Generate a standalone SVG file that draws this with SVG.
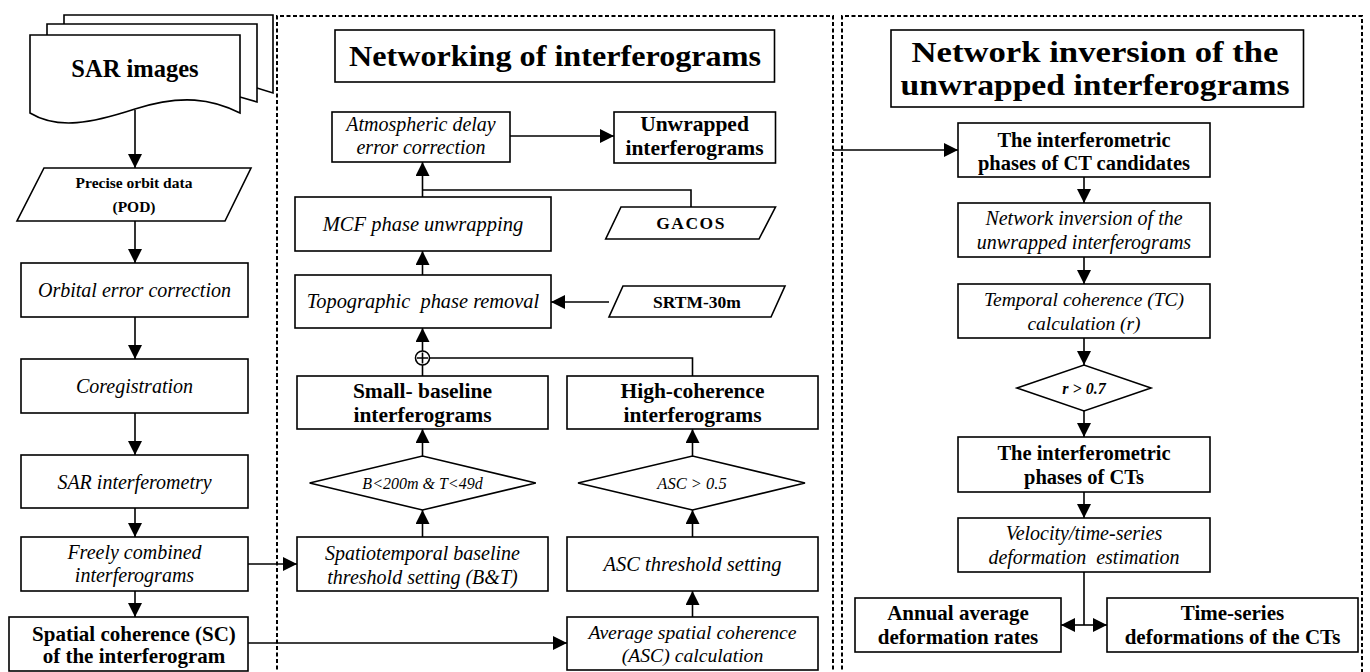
<svg xmlns="http://www.w3.org/2000/svg" width="1370" height="672" viewBox="0 0 1370 672">
<style>
.box{fill:#fff;stroke:#000;stroke-width:1.6}
.t{font-family:"Liberation Serif","Times New Roman",serif;text-anchor:middle;fill:#000}
.b{font-weight:bold}
.i{font-style:italic}
.conn{stroke:#000;stroke-width:1.6;fill:none}
.frame{stroke:#000;stroke-width:2;fill:none;stroke-dasharray:4 2.5}
</style>
<defs>
<marker id="ah" viewBox="0 0 14 14" refX="14" refY="7" markerWidth="14" markerHeight="14" markerUnits="userSpaceOnUse" orient="auto">
<path d="M0,0 L14,7 L0,14 z" fill="#000"/>
</marker>
</defs>
<rect width="1370" height="672" fill="#fff"/>

<g id="frames">
<path class="frame" d="M277,676 V16 H833 V676"/>
<path class="frame" d="M842,676 V16 H1362 V676"/>
</g>

<g id="connectors">
<path class="conn" d="M135,110 V168" marker-end="url(#ah)"/>
<path class="conn" d="M135,221 V263" marker-end="url(#ah)"/>
<path class="conn" d="M135,317 V359" marker-end="url(#ah)"/>
<path class="conn" d="M135,413 V455" marker-end="url(#ah)"/>
<path class="conn" d="M135,508 V537" marker-end="url(#ah)"/>
<path class="conn" d="M135,591 V617" marker-end="url(#ah)"/>
<path class="conn" d="M248,564 H297" marker-end="url(#ah)"/>
<path class="conn" d="M248,643 H567" marker-end="url(#ah)"/>
<path class="conn" d="M692.5,617 V591" marker-end="url(#ah)"/>
<path class="conn" d="M692.5,537 V510" marker-end="url(#ah)"/>
<path class="conn" d="M692.5,456 V429" marker-end="url(#ah)"/>
<path class="conn" d="M422.5,537 V510" marker-end="url(#ah)"/>
<path class="conn" d="M422.5,456 V429" marker-end="url(#ah)"/>
<path class="conn" d="M422.5,376 V365"/>
<path class="conn" d="M422.5,351 V328" marker-end="url(#ah)"/>
<path class="conn" d="M692.5,376 V358 H429.5"/>
<path class="conn" d="M422.5,275 V251" marker-end="url(#ah)"/>
<path class="conn" d="M609,302 H551" marker-end="url(#ah)"/>
<path class="conn" d="M422.5,197 V162" marker-end="url(#ah)"/>
<path class="conn" d="M691,207 V190 H422.5"/>
<path class="conn" d="M510,136 H614" marker-end="url(#ah)"/>
<path class="conn" d="M833,150 H958" marker-end="url(#ah)"/>
<path class="conn" d="M1084,177 V203" marker-end="url(#ah)"/>
<path class="conn" d="M1084,257 V284" marker-end="url(#ah)"/>
<path class="conn" d="M1084,338 V365" marker-end="url(#ah)"/>
<path class="conn" d="M1084,411 V437" marker-end="url(#ah)"/>
<path class="conn" d="M1084,492 V518" marker-end="url(#ah)"/>
<path class="conn" d="M1084,572 V625"/>
<path class="conn" d="M1084,625 H1061" marker-end="url(#ah)"/>
<path class="conn" d="M1084,625 H1107" marker-end="url(#ah)"/>
</g>

<g id="sar-images">
<path class="box" d="M64,15 H273 V93 L257,88 L64,88 Z"/>
<path class="box" d="M47,24 H257 V102 L240,97 L47,97 Z"/>
<path class="box" d="M30,35 H240 V113 C212,99 182,94 135,109 C92,123 58,130 30,113 Z"/>
<text class="t b" x="135" y="77" font-size="24.5">SAR images</text>
</g>

<g id="pod">
<polygon class="box" points="44,168 251,168 225,221 17,221"/>
<text class="t b" x="134" y="188" font-size="15.5">Precise orbit data</text>
<text class="t b" x="134" y="212" font-size="15.5">(POD)</text>
</g>

<g id="orbital">
<rect class="box" x="21" y="263" width="227" height="54"/>
<text class="t i" x="134.5" y="297" font-size="20">Orbital error correction</text>
</g>

<g id="coreg">
<rect class="box" x="21" y="359" width="227" height="54"/>
<text class="t i" x="134.5" y="393" font-size="20">Coregistration</text>
</g>

<g id="sar-interf">
<rect class="box" x="21" y="455" width="227" height="53"/>
<text class="t i" x="134.5" y="489" font-size="20">SAR interferometry</text>
</g>

<g id="freely">
<rect class="box" x="21" y="537" width="227" height="54"/>
<text class="t i" x="134.5" y="559" font-size="20">Freely combined</text>
<text class="t i" x="134.5" y="582" font-size="20">interferograms</text>
</g>

<g id="spatial-coh">
<rect class="box" x="9" y="617" width="239" height="54"/>
<text class="t b" x="134" y="641" font-size="21">Spatial coherence (SC)</text>
<text class="t b" x="134" y="663" font-size="21">of the interferogram</text>
</g>

<g id="title-networking">
<rect class="box" x="335" y="30" width="439.5" height="52"/>
<text class="t b" x="555" y="66" font-size="29" textLength="412" lengthAdjust="spacingAndGlyphs">Networking of interferograms</text>
</g>

<g id="atm">
<rect class="box" x="332" y="112" width="178" height="50"/>
<text class="t i" x="421" y="131" font-size="20">Atmospheric delay</text>
<text class="t i" x="421" y="154" font-size="20">error correction</text>
</g>

<g id="unwrapped">
<rect class="box" x="614" y="112" width="161.5" height="51"/>
<text class="t b" x="694.5" y="131" font-size="21.5">Unwrapped</text>
<text class="t b" x="694.5" y="155" font-size="21.5">interferograms</text>
</g>

<g id="mcf">
<rect class="box" x="295" y="197" width="256" height="54"/>
<text class="t i" x="423" y="231" font-size="20.5">MCF phase unwrapping</text>
</g>

<g id="gacos">
<polygon class="box" points="621,207 775.5,207 759,239 605.7,239"/>
<text class="t b" x="691" y="229" font-size="17.5" letter-spacing="1.5">GACOS</text>
</g>

<g id="topographic">
<rect class="box" x="295" y="275" width="256" height="53"/>
<text class="t i" x="423" y="308" font-size="20.4" xml:space="preserve">Topographic  phase removal</text>
</g>

<g id="srtm">
<polygon class="box" points="623,286 785,286 771,317 609,317"/>
<text class="t b" x="697" y="308" font-size="17.5">SRTM-30m</text>
</g>

<g id="oplus">
<circle cx="422.5" cy="358" r="7" fill="#fff" stroke="#000" stroke-width="1.6"/>
<path class="conn" d="M422.5,352.5 V363.5 M417,358 H428"/>
</g>

<g id="small-baseline">
<rect class="box" x="297" y="376" width="251" height="53"/>
<text class="t b" x="422.5" y="398" font-size="21.5">Small- baseline</text>
<text class="t b" x="422.5" y="422" font-size="21.5">interferograms</text>
</g>

<g id="high-coherence">
<rect class="box" x="567" y="376" width="251" height="53"/>
<text class="t b" x="692.5" y="398" font-size="21.5">High-coherence</text>
<text class="t b" x="692.5" y="422" font-size="21.5">interferograms</text>
</g>

<g id="diamond-bt">
<polygon class="box" points="309.6,483 422.5,456 535.8,483 422.5,510"/>
<text class="t i" x="422.5" y="488.5" font-size="16">B&lt;200m &amp; T&lt;49d</text>
</g>

<g id="diamond-asc">
<polygon class="box" points="578,483 692.5,456 805,483 692.5,510"/>
<text class="t i" x="692" y="488.5" font-size="16.5">ASC &gt; 0.5</text>
</g>

<g id="spatiotemporal">
<rect class="box" x="297" y="537" width="251" height="54"/>
<text class="t i" x="422.5" y="560" font-size="20">Spatiotemporal baseline</text>
<text class="t i" x="422.5" y="584" font-size="20">threshold setting (B&amp;T)</text>
</g>

<g id="asc-threshold">
<rect class="box" x="567" y="537" width="251" height="54"/>
<text class="t i" x="692.5" y="571" font-size="20.5">ASC threshold setting</text>
</g>

<g id="asc-calc">
<rect class="box" x="567" y="617" width="251" height="53"/>
<text class="t i" x="692.5" y="639" font-size="19.7">Average spatial coherence</text>
<text class="t i" x="692.5" y="662" font-size="19.7">(ASC) calculation</text>
</g>

<g id="title-inversion">
<rect class="box" x="891" y="30" width="412.5" height="77"/>
<text class="t b" x="1095" y="62" font-size="29" textLength="367" lengthAdjust="spacingAndGlyphs">Network inversion of the</text>
<text class="t b" x="1095" y="95" font-size="29" textLength="389" lengthAdjust="spacingAndGlyphs">unwrapped interferograms</text>
</g>

<g id="ct-candidates">
<rect class="box" x="958" y="123" width="252" height="54"/>
<text class="t b" x="1084" y="147" font-size="20.5">The interferometric</text>
<text class="t b" x="1084" y="170" font-size="20.5">phases of CT candidates</text>
</g>

<g id="net-inversion">
<rect class="box" x="958" y="203" width="252" height="54"/>
<text class="t i" x="1084" y="225" font-size="20">Network inversion of the</text>
<text class="t i" x="1084" y="249" font-size="20">unwrapped interferograms</text>
</g>

<g id="temporal-coh">
<rect class="box" x="958" y="284" width="252" height="54"/>
<text class="t i" x="1084" y="306" font-size="19.5">Temporal coherence (TC)</text>
<text class="t i" x="1084" y="330" font-size="19.5">calculation (r)</text>
</g>

<g id="diamond-r">
<polygon class="box" points="1017,388 1084,365 1151,388 1084,411"/>
<text class="t b i" x="1084" y="393.5" font-size="16">r &gt; 0.7</text>
</g>

<g id="ct-phases">
<rect class="box" x="958" y="437" width="252" height="55"/>
<text class="t b" x="1084" y="460" font-size="20.5">The interferometric</text>
<text class="t b" x="1084" y="484" font-size="20.5">phases of CTs</text>
</g>

<g id="velocity">
<rect class="box" x="958" y="518" width="252" height="54"/>
<text class="t i" x="1084" y="540" font-size="20">Velocity/time-series</text>
<text class="t i" x="1084" y="564" font-size="20" xml:space="preserve">deformation  estimation</text>
</g>

<g id="annual">
<rect class="box" x="855" y="598" width="206" height="54"/>
<text class="t b" x="958" y="620" font-size="21">Annual average</text>
<text class="t b" x="958" y="644" font-size="21">deformation rates</text>
</g>

<g id="time-series">
<rect class="box" x="1107" y="598" width="251" height="54"/>
<text class="t b" x="1232.5" y="620" font-size="21">Time-series</text>
<text class="t b" x="1232.5" y="644" font-size="21">deformations of the CTs</text>
</g>
</svg>
